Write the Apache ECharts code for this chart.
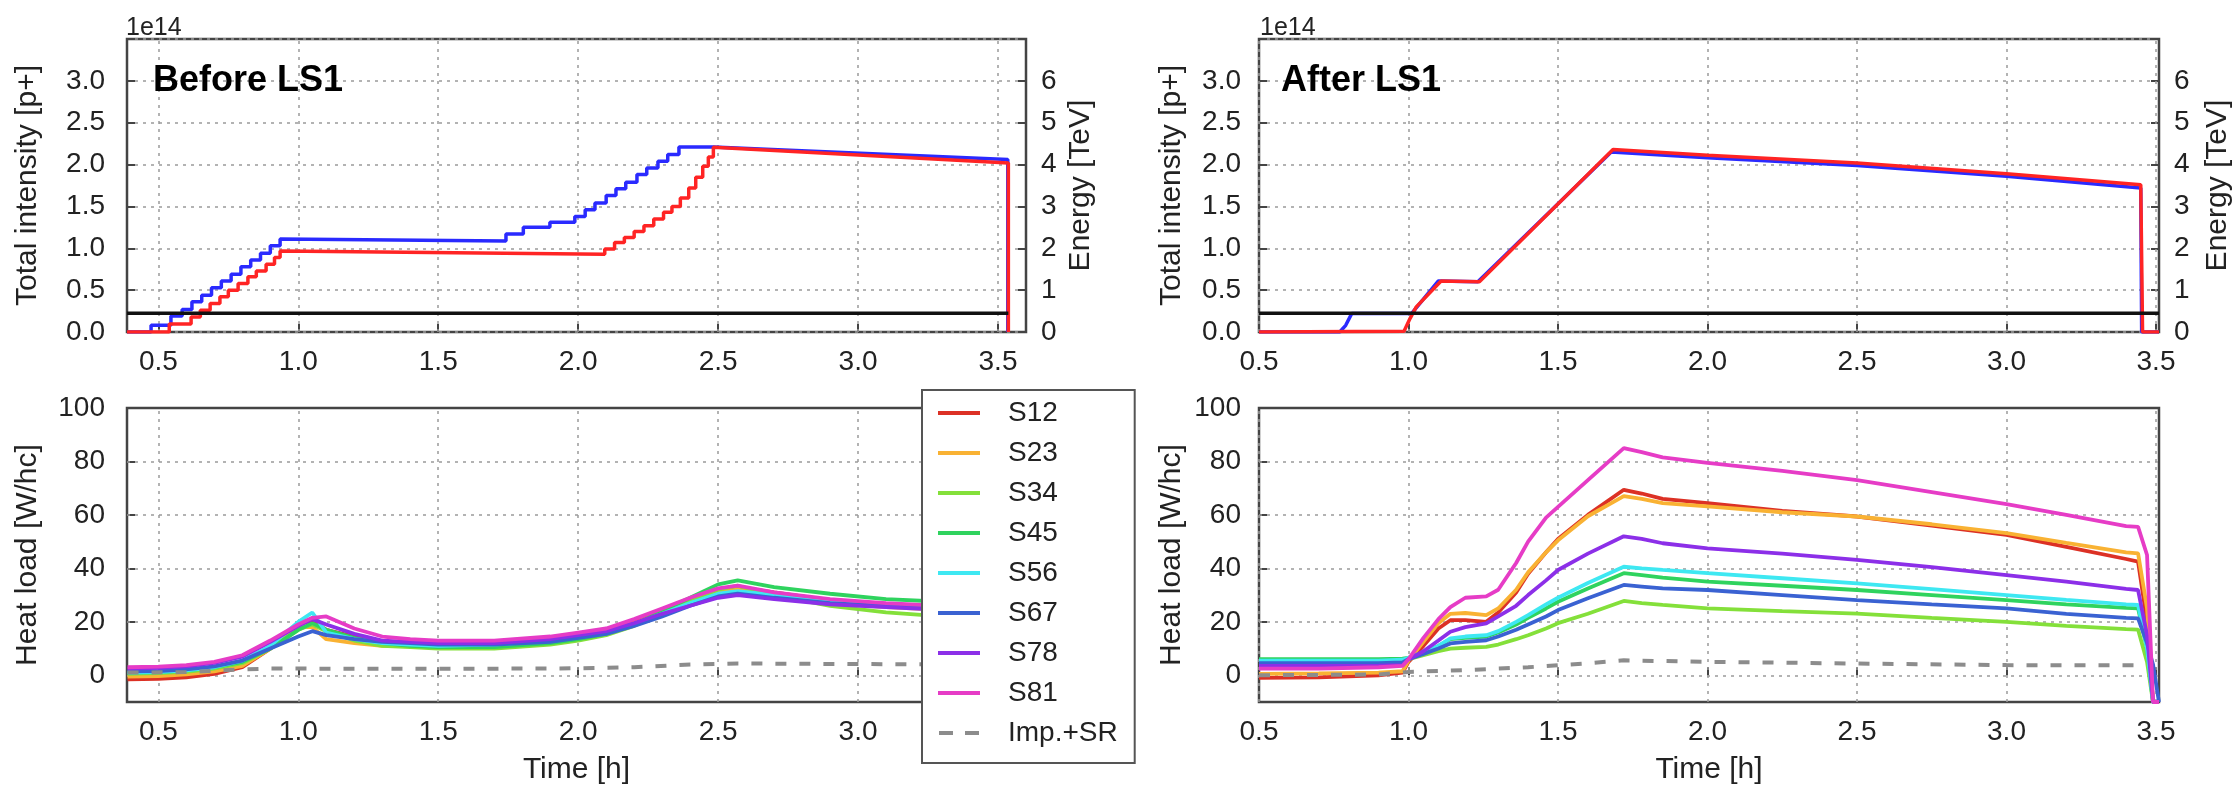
<!DOCTYPE html>
<html><head><meta charset="utf-8">
<script src="https://cdn.jsdelivr.net/npm/echarts@6/dist/echarts.min.js"></script>
<style>html,body{margin:0;padding:0;background:#fff}#c{width:2234px;height:788px}</style>
</head><body><div id="c"></div>
<script>
// ---------------- DATA ----------------
// x tick labels (time, h) and y tick labels
const timeTicks = [0.5, 1.0, 1.5, 2.0, 2.5, 3.0, 3.5];
const heatTicks = [0, 20, 40, 60, 80, 100];
const heatGridVals = [0, 20, 40, 60, 80];

// Top-left "Before LS1": total intensity (units of 1e14 p+), [time, value]
const tlBeam1 = [[0.388,0],[0.474,0],[0.474,0.08],[0.545,0.08],[0.545,0.19],[0.585,0.19],[0.585,0.27],[0.62,0.27],[0.62,0.36],[0.655,0.36],[0.655,0.44],[0.69,0.44],[0.69,0.53],[0.725,0.53],[0.725,0.61],[0.76,0.61],[0.76,0.69],[0.795,0.69],[0.795,0.78],[0.83,0.78],[0.83,0.86],[0.865,0.86],[0.865,0.94],[0.90,0.94],[0.90,1.03],[0.935,1.03],[0.935,1.11],
  [1.742,1.087],[1.742,1.17],[1.804,1.17],[1.804,1.25],[1.899,1.25],[1.899,1.31],[1.988,1.31],[1.988,1.38],[2.025,1.38],[2.025,1.46],[2.06,1.46],[2.06,1.54],[2.10,1.54],[2.10,1.63],[2.135,1.63],[2.135,1.71],[2.17,1.71],[2.17,1.79],[2.21,1.79],[2.21,1.88],[2.245,1.88],[2.245,1.96],[2.285,1.96],[2.285,2.04],[2.32,2.04],[2.32,2.12],[2.36,2.12],[2.36,2.21],
  [2.483,2.21],[3.535,2.06],[3.535,0]];
const tlBeam2 = [[0.388,0],[0.539,0],[0.539,0.096],[0.617,0.096],[0.617,0.18],[0.65,0.18],[0.65,0.26],[0.685,0.26],[0.685,0.34],[0.72,0.34],[0.72,0.42],[0.75,0.42],[0.75,0.50],[0.785,0.50],[0.785,0.58],[0.82,0.58],[0.82,0.66],[0.85,0.66],[0.85,0.73],[0.885,0.73],[0.885,0.81],[0.915,0.81],[0.915,0.89],[0.935,0.89],[0.935,0.968],
  [2.095,0.928],[2.095,0.99],[2.13,0.99],[2.13,1.07],[2.165,1.07],[2.165,1.13],[2.20,1.13],[2.20,1.20],[2.235,1.20],[2.235,1.27],[2.27,1.27],[2.27,1.35],[2.305,1.35],[2.305,1.43],[2.335,1.43],[2.335,1.50],[2.365,1.50],[2.365,1.60],[2.395,1.60],[2.395,1.72],[2.42,1.72],[2.42,1.85],[2.445,1.85],[2.445,1.98],[2.465,1.98],[2.465,2.09],[2.483,2.09],[2.483,2.207],
  [3.537,2.02],[3.537,0]];
const tlEnergy = [[0.388,0.45],[3.537,0.45]];

// Top-right "After LS1"
const trBeam1 = [[0.5,0],[0.77,0],[0.79,0.08],[0.81,0.22],[1.01,0.22],[1.10,0.61],[1.232,0.60],[1.678,2.15],[2.0,2.08],[2.5,1.99],[3.0,1.86],[3.449,1.72],[3.452,0],[3.51,0]];
const trBeam2 = [[0.5,0],[0.985,0.01],[1.005,0.16],[1.026,0.30],[1.109,0.61],[1.237,0.60],[1.684,2.18],[2.0,2.11],[2.5,2.02],[3.0,1.89],[3.449,1.76],[3.455,0],[3.51,0]];
const trEnergy = [[0.5,0.45],[3.51,0.45]];

// Bottom-left heat load (W/hc)
const blTime = [0.39,0.5,0.6,0.7,0.8,0.9,1.0,1.05,1.1,1.2,1.3,1.4,1.5,1.7,1.9,2.0,2.1,2.2,2.3,2.4,2.5,2.57,2.7,2.9,3.1,3.3,3.5,3.54];
const blS12 = [-1.5,-1.3,-0.8,0.5,3,10,19,20.5,17,14.5,12.5,12,12,12.5,14,15,17,20,24.5,28.5,32,33,31,28,26.5,25.5,24.5,-10];
const blS23 = [-0.5,-0.3,0.3,1.5,3.5,10,18,18,13.5,12,11,11,11,11.5,13,14.5,16,19.5,23.5,28,31.5,32,30,27,25.5,24.5,23.5,-10];
const blS34 = [0.5,0.8,1.3,2.5,4.5,10,17,19,16.5,13,11,10.5,10,10,11.5,13,15,18.5,23,28,32,33.5,30,26,23.5,22,21,-10];
const blS45 = [1,1.2,1.8,3,5,10,17,19.5,17,14,12,11,10.5,10.5,12,13.5,15.5,19,24,29,34,35.5,33,30.5,28.5,27.5,26.5,-10];
const blS56 = [1,1.2,1.8,3,5.5,11,20,23.5,16,13.5,12,11.5,11,11.5,13,14.5,16,19,23,27,30.5,31.5,30,28,26.5,25.5,24.5,-10];
const blS67 = [1.5,1.6,2.2,3.3,5.5,10,14.5,16.5,15,13.5,12.5,12,11.5,11.5,12.5,14,15.5,18.5,22,26,29.5,30.5,29,27,26,25,24,-10];
const blS78 = [2.5,2.8,3.3,4.6,7,12.5,18.5,21,19,15.5,13,12.5,12,12,13.5,15,16.5,19.5,23,26,29,30,28.5,26.5,25.5,24.5,23.5,-10];
const blS81 = [3,3.2,3.8,5,7.5,13,19,21.5,22,17.5,14.5,13.5,13,13,14.5,16,17.5,21,25,29,32.5,33.5,31,28.5,27,26,25,-10];
const blImpTime = [0.39,0.6,0.8,0.9,1.0,1.5,2.0,2.2,2.4,2.57,3.0,3.54];
const blImp = [1.0,1.2,2.2,2.5,2.5,2.4,2.6,3.0,4.0,4.4,4.2,3.9];

// Bottom-right heat load (W/hc)
const brTime = [0.5,0.7,0.9,0.98,1.0,1.05,1.1,1.14,1.19,1.26,1.3,1.36,1.4,1.46,1.5,1.6,1.72,1.78,1.85,2.0,2.25,2.5,2.75,3.0,3.2,3.4,3.44,3.47,3.49,3.51];
const brS12 = [-1,-0.8,0,1,5,11,17.5,20.6,20.6,20,23.5,31,38,46,51,60,69.4,68,66,64.4,61.5,59.4,56,52.5,48,43.5,42.5,20,-10,-10];
const brS23 = [0.5,0.7,1,1.5,5.5,12.5,19.5,23,23.3,22.5,25,32,38.5,46,50.5,59.5,67,66,64.4,63.2,61,59.4,56.5,53.2,49.5,46,45.6,25,-10,-10];
const brS34 = [5,5,5,5.2,6,7.5,9,10,10.3,10.6,11.5,13.5,15,17.5,19.5,23,27.8,27,26.3,25,24,23.1,21.5,20,18.5,17.3,17.1,5,-10,-10];
const brS45 = [6,6,6,6.2,6.5,8.5,11,13.5,14,14.5,16,19,21.5,25,27.5,32.5,38.2,37.5,36.5,35,33.5,31.9,30,28.1,26.5,25.2,25,10,-10,-10];
const brS56 = [5.5,5.5,5.5,5.8,6.5,8.5,11,13.8,14.5,15,16.5,20,22.5,26.5,29,34.5,40.6,40,39.4,38.2,36.3,34.4,32.2,30,28.2,26.5,26.3,10,-10,-10];
const brS67 = [4.5,4.5,4.5,4.8,6,8,10,11.9,12.5,13.1,14.5,17,19,22,24.4,28.8,33.8,33.2,32.5,31.9,30,28.1,26.5,25,23,21.5,21.3,12,4,-10];
const brS78 = [3.5,3.5,3.6,3.8,6,9,13,16.3,18,19.4,22,26,30,35.5,39.4,45.5,52,51,49.4,47.5,45.5,43.2,40.5,37.5,35,32.3,31.9,15,-10,-10];
const brS81 = [2.5,2.5,3,3.5,6,14,21,25.5,29,29.5,32,42,50,59,63,73,85,83.5,81.5,79.5,76.5,73,68.5,64,60,55.8,55.5,45,-10,-10];
const brImpTime = [0.5,0.9,1.0,1.2,1.4,1.5,1.6,1.72,2.0,2.5,3.0,3.44];
const brImp = [0,0.3,1.25,2,3,3.75,4.5,5.6,5.0,4.4,3.8,3.7];

const sectorNames = ['S12','S23','S34','S45','S56','S67','S78','S81'];
const impName = 'Imp.+SR';
const sectorColors = ['#dc3125','#f9b233','#84e03a','#2fd35e','#3ee8f2','#3a62d2','#8c2fe8','#e63cc6'];
const blSectors = [blS12, blS23, blS34, blS45, blS56, blS67, blS78, blS81];
const brSectors = [brS12, brS23, brS34, brS45, brS56, brS67, brS78, brS81];

// ---------------- CHART ----------------
const FONT = 'Liberation Sans';
const TXT = '#222';
const gridStyle = {type: [3, 5], color: '#9a9a9a', width: 1.5};
const pairs = (t, v) => t.map((x, i) => [x, v[i]]);

const grids = [
  {left: 127, top: 39, width: 899, height: 293},
  {left: 1259, top: 39, width: 900, height: 293},
  {left: 127, top: 408, width: 899, height: 294},
  {left: 1259, top: 408, width: 900, height: 294}
].map(g => Object.assign(g, {show: true, borderColor: '#444', borderWidth: 2.5, containLabel: false}));

function xAx(gi, min, max, withName) {
  return {
    gridIndex: gi, type: 'value', min: min, max: max,
    axisLine: {show: false}, splitLine: {show: false},
    axisTick: {show: true, inside: true, length: 8, customValues: timeTicks, lineStyle: {color: '#444', width: 2}},
    axisLabel: {customValues: timeTicks, formatter: v => v.toFixed(1), fontSize: 28, color: TXT, fontFamily: FONT, margin: 16},
    name: withName ? 'Time [h]' : '', nameLocation: 'middle', nameGap: 53,
    nameTextStyle: {fontSize: 30, color: TXT, fontFamily: FONT}
  };
}
function yInt(gi, margin, gap) {
  return {
    gridIndex: gi, type: 'value', min: 0, max: 3.5, interval: 0.5, position: 'left',
    axisLine: {show: false},
    axisTick: {show: true, inside: true, length: 8, lineStyle: {color: '#444', width: 2}},
    splitLine: {show: true, lineStyle: gridStyle},
    axisLabel: {formatter: v => v > 3.01 ? '' : v.toFixed(1), fontSize: 28, color: TXT, fontFamily: FONT, margin: margin},
    name: 'Total intensity [p+]', nameLocation: 'middle', nameRotate: 90, nameGap: gap,
    nameTextStyle: {fontSize: 30, color: TXT, fontFamily: FONT}
  };
}
function yEn(gi, gap) {
  return {
    gridIndex: gi, type: 'value', min: 0, max: 7, interval: 1, position: 'right',
    axisLine: {show: false},
    axisTick: {show: true, inside: true, length: 8, lineStyle: {color: '#444', width: 2}},
    splitLine: {show: false},
    axisLabel: {formatter: v => v > 6.5 ? '' : String(v), fontSize: 28, color: TXT, fontFamily: FONT, margin: 15},
    name: 'Energy [TeV]', nameLocation: 'middle', nameRotate: 90, nameGap: gap,
    nameTextStyle: {fontSize: 30, color: TXT, fontFamily: FONT}
  };
}
function yHeat(gi, margin, gap) {
  return {
    gridIndex: gi, type: 'value', min: -10, max: 100, position: 'left',
    axisLine: {show: false}, splitLine: {show: false},
    axisTick: {show: true, inside: true, length: 8, customValues: heatTicks, lineStyle: {color: '#444', width: 2}},
    axisLabel: {customValues: heatTicks, formatter: v => String(v), fontSize: 28, color: TXT, fontFamily: FONT, margin: margin},
    name: 'Heat load [W/hc]', nameLocation: 'middle', nameRotate: 90, nameGap: gap,
    nameTextStyle: {fontSize: 30, color: TXT, fontFamily: FONT}
  };
}
function gridMarks(withHoriz) {
  const d = timeTicks.map(v => ({xAxis: v}));
  if (withHoriz) heatGridVals.forEach(v => d.push({yAxis: v}));
  return {silent: true, symbol: ['none', 'none'], label: {show: false}, lineStyle: gridStyle, z: 1, animation: false, data: d};
}
function line(name, xi, yi, data, color, width, extra) {
  return Object.assign({
    name: name, type: 'line', xAxisIndex: xi, yAxisIndex: yi, data: data,
    symbol: 'none', showSymbol: false, silent: true, animation: false, z: 2,
    lineStyle: {color: color, width: width}, itemStyle: {color: color}
  }, extra || {});
}

const series = [];
// top-left
series.push(line('Beam 1 L', 0, 0, tlBeam1, '#2a2aff', 3.5, {markLine: gridMarks(false)}));
series.push(line('Beam 2 L', 0, 0, tlBeam2, '#ff2424', 3.5));
series.push(line('Energy L', 0, 1, tlEnergy, '#111', 3.5));
// top-right
series.push(line('Beam 1 R', 1, 2, trBeam1, '#2a2aff', 3.5, {markLine: gridMarks(false)}));
series.push(line('Beam 2 R', 1, 2, trBeam2, '#ff2424', 3.5));
series.push(line('Energy R', 1, 3, trEnergy, '#111', 3.5));
// bottom-left
sectorNames.forEach((n, i) => {
  series.push(line(n, 2, 4, pairs(blTime, blSectors[i]), sectorColors[i], 3.8, i === 0 ? {markLine: gridMarks(true)} : {}));
});
series.push(line(impName, 2, 4, pairs(blImpTime, blImp), '#8c8c8c', 4, {lineStyle: {color: '#8c8c8c', width: 4, type: [11, 13]}}));
// bottom-right
sectorNames.forEach((n, i) => {
  series.push(line(n, 3, 5, pairs(brTime, brSectors[i]), sectorColors[i], 3.8, i === 0 ? {markLine: gridMarks(true)} : {}));
});
series.push(line(impName, 3, 5, pairs(brImpTime, brImp), '#8c8c8c', 4, {lineStyle: {color: '#8c8c8c', width: 4, type: [11, 13]}}));

const legendData = sectorNames.map(n => ({name: n, icon: 'rect'}))
  .concat([{name: impName, icon: 'path://M0,0H14V4H0Z M26,0H40V4H26Z'}]);

const option = {
  animation: false,
  backgroundColor: '#fff',
  textStyle: {fontFamily: FONT},
  grid: grids,
  xAxis: [xAx(0, 0.388, 3.6, false), xAx(1, 0.5, 3.51, false), xAx(2, 0.388, 3.6, true), xAx(3, 0.5, 3.51, true)],
  yAxis: [yInt(0, 22, 84), yEn(0, 40), yInt(1, 18, 72), yEn(1, 44), yHeat(2, 22, 84), yHeat(3, 18, 72)],
  legend: {
    data: legendData,
    orient: 'vertical', left: 922, top: 390, z: 10,
    selectedMode: false,
    backgroundColor: '#fff', borderColor: '#555', borderWidth: 2, borderRadius: 0,
    padding: [8, 17, 15, 16],
    itemWidth: 42, itemHeight: 4, itemGap: 10,
    textStyle: {fontSize: 28, color: TXT, fontFamily: FONT, lineHeight: 30, padding: [0, 0, 0, 23]}
  },
  graphic: [
    {type: 'text', left: 126, top: 16, style: {text: '1e14', font: '25px "Liberation Sans"', fill: TXT}},
    {type: 'text', left: 1260, top: 16, style: {text: '1e14', font: '25px "Liberation Sans"', fill: TXT}},
    {type: 'text', left: 153, top: 63, z: 20, style: {text: 'Before LS1', font: 'bold 36px "Liberation Sans"', fill: '#000'}},
    {type: 'text', left: 1281, top: 63, z: 20, style: {text: 'After LS1', font: 'bold 36px "Liberation Sans"', fill: '#000'}}
  ],
  series: series
};

const chart = echarts.init(document.getElementById('c'), null, {renderer: 'canvas', width: 2234, height: 788});
chart.setOption(option);
</script></body></html>
